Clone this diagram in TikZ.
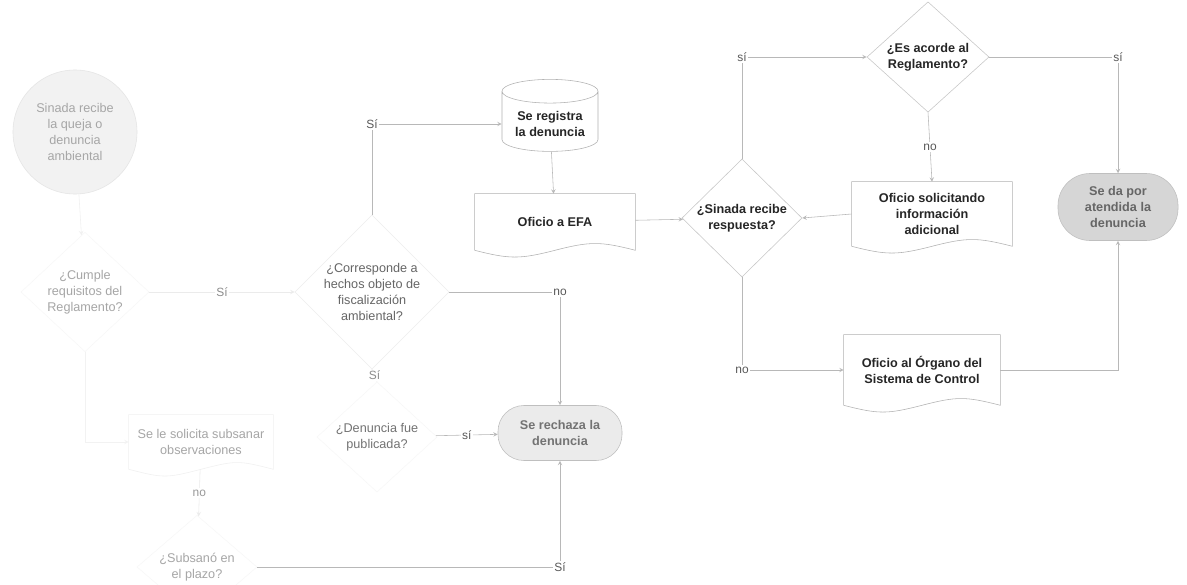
\documentclass[tikz,border=0pt]{standalone}
\usepackage{fontspec}
\setsansfont{Liberation Sans}
\usetikzlibrary{shapes.geometric}
\newcommand{\docedge}[2][black!30]{%
  \draw[#1] (#2.south west) -- (#2.north west) -- (#2.north east) -- (#2.south east)
  .. controls +(-35,-9) and +(35,-9) .. (#2.south)
  .. controls +(-35,9) and +(35,9) .. (#2.south west);}
\begin{document}
\begin{tikzpicture}[x=0.025cm,y=-0.025cm,>=stealth,
	txt/.style={font=\sffamily\bfseries\fontsize{9}{11.5}\selectfont,align=center,text=black!85},
	faint/.style={font=\sffamily\fontsize{9}{11.5}\selectfont,align=center,text=black!35},
	line/.style={draw=black!28,->},
	dec/.style={diamond,draw=black!22,inner sep=0pt},
	term/.style={rectangle,rounded corners=0.75cm,draw=black!25,fill=black!16},
	doc/.style={rectangle,inner sep=0pt},
	lbl/.style={font=\sffamily\fontsize{8.5}{10}\selectfont,text=black!65,fill=white,inner sep=1pt}]
	\path[fill=white,use as bounding box] (0,0) rectangle (1187,584);
	\node[faint,ellipse,fill=black!5,draw=black!10,minimum width=3.1cm,minimum height=3.1cm] (recibe) at (75,132) {Sinada recibe\\la queja o\\denuncia\\ambiental};
	\node[faint,dec,draw=black!3,minimum width=3.2cm,minimum height=2.3cm] (cumple) at (85,292) {¿Cumple\\requisitos del\\Reglamento?};
	\node[faint,dec,text=black!60,draw=black!7,minimum width=3.6cm,minimum height=2.75cm] (corresponde) at (372,292) {¿Corresponde a\\hechos objeto de\\fiscalización\\ambiental?};
	\node[faint,doc,minimum width=3.6cm,minimum height=1.35cm] (subsanar) at (201,442) {Se le solicita subsanar\\observaciones};
	\node[faint,dec,text=black!55,draw=black!3,minimum width=3cm,minimum height=2cm] (tiene) at (377,437) {¿Denuncia fue\\publicada?};
	\node[faint,dec,draw=black!3,minimum width=3cm,minimum height=1.6cm] (subsano) at (197,567) {¿Subsanó en\\el plazo?};
	\node[txt,cylinder,shape border rotate=90,aspect=0.3,draw=black!30,minimum width=2.4cm,minimum height=1.8cm] (registra) at (550,124) {Se registra\\la denuncia};
	\node[txt,doc,minimum width=4cm,minimum height=1.4cm] (efa) at (555,222) {Oficio a EFA};
	\node[txt,term,text=black!55,fill=black!8,minimum width=3.1cm,minimum height=1.375cm,rounded corners=0.65cm] (rechaza) at (560,433) {Se rechaza la\\denuncia};
	\node[txt,dec,minimum width=3cm,minimum height=2.45cm] (respuesta) at (742,218) {¿Sinada recibe\\respuesta?};
	\node[txt,dec,minimum width=3.05cm,minimum height=2.6cm] (acorde) at (928,57) {¿Es acorde al\\Reglamento?};
	\node[txt,doc,minimum width=4cm,minimum height=1.6cm] (solicitando) at (932,214) {Oficio solicitando\\información\\adicional};
	\node[txt,term,text=black!60,minimum width=3cm,minimum height=1.675cm,rounded corners=0.8cm] (atendida) at (1118,207) {Se da por\\atendida la\\denuncia};
	\node[txt,doc,minimum width=3.9cm,minimum height=1.75cm] (organo) at (922,370) {Oficio al Órgano del\\Sistema de Control};
	\docedge[black!6]{subsanar}
	\docedge{efa}
	\docedge{solicitando}
	\docedge{organo}
	\draw[line,draw=black!6] (recibe) -- (cumple);
	\draw[line,draw=black!5] (cumple.south) |- (subsanar.west);
	\draw[line,draw=black!8] (cumple) -- node[lbl,text=black!45]{Sí} (corresponde);
	\draw[line] (corresponde.north) |- node[lbl,pos=0.5]{Sí} (registra.west);
	\draw[line] (registra) -- (efa);
	\draw[line] (corresponde.east) -| node[lbl,pos=0.5]{no} (rechaza.north);
	\draw[line] (efa) -- (respuesta);
	\draw[line,draw=black!12] (corresponde.south) -- node[lbl,text=black!45]{Sí} (tiene.north);
	\draw[line] (tiene) -- node[lbl]{sí} (rechaza);
	\draw[line,draw=black!8] (subsanar) -- node[lbl,text=black!40]{no} (subsano);
	\draw[line] (subsano.east) -| node[lbl,pos=0.5]{Sí} (rechaza.south);
	\draw[line] (respuesta.north) |- node[lbl,pos=0.5]{sí} (acorde.west);
	\draw[line] (acorde.south) -- node[lbl]{no} (solicitando.north);
	\draw[line] (solicitando.west) -- (respuesta.east);
	\draw[line] (acorde.east) -| node[lbl,pos=0.5]{sí} (atendida.north);
	\draw[line] (respuesta.south) |- node[lbl,pos=0.5]{no} (organo.west);
	\draw[line] (organo.east) -| (atendida.south);
\end{tikzpicture}
\end{document}
